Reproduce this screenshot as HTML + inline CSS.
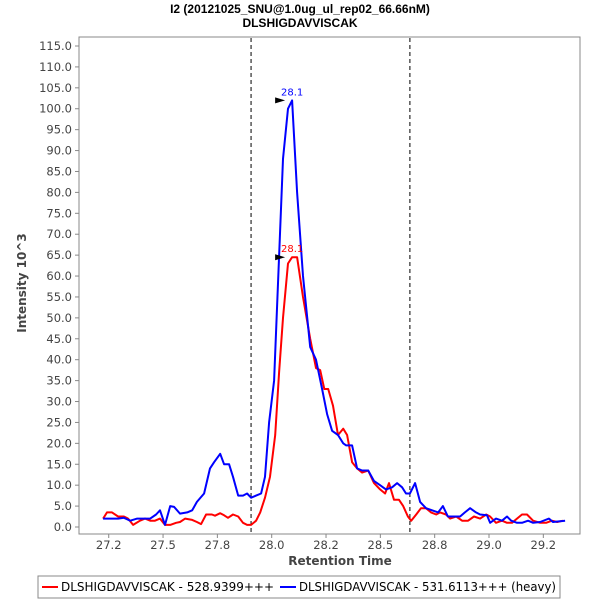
<!DOCTYPE html>
<html><head><meta charset="utf-8"><style>
html,body{margin:0;padding:0;background:#fff;}
svg{display:block;font-family:"DejaVu Sans","Liberation Sans",sans-serif;}
</style></head><body>
<svg id="chart" width="600" height="600">
<text x="300" y="13" text-anchor="middle" font-size="12" font-weight="bold" font-family="Liberation Sans, sans-serif">I2 (20121025_SNU@1.0ug_ul_rep02_66.66nM)</text>
<text x="300" y="27" text-anchor="middle" font-size="12" font-weight="bold" font-family="Liberation Sans, sans-serif">DLSHIGDAVVISCAK</text>
<rect x="79" y="37" width="501" height="497" fill="#fff" stroke="#888"/>
<g id="yaxis"></g>
<g id="xaxis"></g>
<text transform="translate(26,283) rotate(-90)" text-anchor="middle" font-size="12" font-weight="bold" fill="#444">Intensity 10^3</text>
<text x="340" y="565" text-anchor="middle" font-size="12" font-weight="bold" fill="#444">Retention Time</text>
<g id="marks"></g>
<g>
<rect x="38" y="576" width="522" height="22" fill="#fff" stroke="#888"/>
<line x1="42" y1="587" x2="58" y2="587" stroke="#f00" stroke-width="2"/>
<text x="61" y="591" font-size="12" textLength="213" lengthAdjust="spacingAndGlyphs">DLSHIGDAVVISCAK - 528.9399+++</text>
<line x1="280" y1="587" x2="296" y2="587" stroke="#00f" stroke-width="2"/>
<text x="299" y="591" font-size="12" textLength="257" lengthAdjust="spacingAndGlyphs">DLSHIGDAVVISCAK - 531.6113+++ (heavy)</text>
</g>
</svg>
<script>
const yTicks=[0,5,10,15,20,25,30,35,40,45,50,55,60,65,70,75,80,85,90,95,100,105,110,115];
const xTicks=[27.25,27.5,27.75,28.0,28.25,28.5,28.75,29.0,29.25];
const xTickLabels=["27.2","27.5","27.8","28.0","28.2","28.5","28.8","29.0","29.2"];
const dashedLines=[27.905,28.636];
const blueRt=[27.224,27.256,27.293,27.320,27.349,27.381,27.412,27.441,27.468,27.486,27.509,27.533,27.551,27.578,27.611,27.634,27.656,27.689,27.716,27.735,27.763,27.781,27.804,27.822,27.846,27.868,27.887,27.905,27.928,27.951,27.969,27.988,28.011,28.052,28.075,28.094,28.117,28.144,28.177,28.204,28.232,28.255,28.278,28.305,28.329,28.343,28.370,28.393,28.416,28.444,28.471,28.499,28.526,28.554,28.577,28.600,28.618,28.636,28.660,28.683,28.710,28.738,28.766,28.788,28.811,28.844,28.867,28.889,28.913,28.940,28.959,28.991,29.005,29.032,29.060,29.083,29.102,29.129,29.152,29.180,29.203,29.235,29.276,29.294,29.350];
const blueVal=[2,2,2,2.2,1.5,2,2,2,3,4,0.5,5,4.8,3.2,3.5,4,6,8,14,15.5,17.5,15,15,12,7.5,7.5,8,7,7.5,8,12,25,35,88,100,102,80,60,43,40,33,27,23,22,20,19.5,19.5,14,13.5,13.5,11,10,9,9.5,10.5,9.5,8,8,10.5,6,4.5,4,3.5,5,2.5,2.5,2.5,3.5,4.5,3.5,3,2.8,1,2,1.5,2.5,1.5,1,1,1.5,1,1.2,2,1.2,1.5];
const redRt=[27.224,27.242,27.265,27.293,27.320,27.339,27.362,27.394,27.417,27.441,27.463,27.486,27.509,27.533,27.560,27.578,27.602,27.634,27.656,27.675,27.698,27.725,27.739,27.763,27.781,27.799,27.822,27.846,27.868,27.887,27.905,27.928,27.947,27.969,27.992,28.016,28.034,28.052,28.075,28.094,28.117,28.144,28.177,28.204,28.223,28.242,28.260,28.282,28.305,28.329,28.347,28.370,28.393,28.416,28.444,28.471,28.499,28.522,28.540,28.563,28.586,28.605,28.627,28.642,28.665,28.687,28.710,28.733,28.757,28.775,28.802,28.821,28.849,28.876,28.904,28.931,28.959,28.987,29.005,29.032,29.060,29.083,29.106,29.129,29.152,29.175,29.203,29.235,29.263,29.290,29.314,29.340];
const redVal=[2,3.5,3.5,2.5,2.5,2,0.5,1.5,2,1.5,1.5,2,0.5,0.5,1,1.2,2,1.7,1.2,0.7,3,3,2.7,3.3,2.8,2.2,3,2.5,1,0.5,0.5,1.5,3.5,7,12,22,37,50,63,64.5,64.5,55,45,38,37.5,33,33,29,22,23.5,22,15.5,14,13,13.5,10.5,9,8,10.5,6.5,6.5,5,2.5,1.5,3,4.5,4.5,3.5,3,3.5,3,2,2.5,1.5,1.5,2.5,2,3,2.5,1,1.5,1,1,2,3,3,1.5,1,1,1.5,1.2,1.5];
const peakRt=[28.094,28.094];
const peakVal=[102,64.5];
const peakLabels=["28.1","28.1"];

const NS="http://www.w3.org/2000/svg";
const xs=v=>271.7+(v-28)*217.3;
const ys=v=>527-v*(481/115);
function mk(tag,attrs,parent){const e=document.createElementNS(NS,tag);for(const k in attrs)e.setAttribute(k,attrs[k]);parent.appendChild(e);return e;}
const yg=document.getElementById('yaxis'),xg=document.getElementById('xaxis'),mg=document.getElementById('marks');
yTicks.forEach(t=>{
  const l=mk('line',{x1:75,x2:79,y1:ys(t),y2:ys(t),stroke:'#888'},yg);
  
  
  const tx=mk('text',{x:72,y:ys(t)+4,'text-anchor':'end','font-size':11.5,fill:'#444'},yg);
  tx.textContent=t.toFixed(1);
  
  
});
xTicks.forEach((t,i)=>{
  const l=mk('line',{x1:xs(t),x2:xs(t),y1:534,y2:538,stroke:'#888'},xg);
  
  
  const tx=mk('text',{x:xs(t),y:549,'text-anchor':'middle','font-size':11.5,fill:'#444'},xg);
  tx.textContent=xTickLabels[i];
  
  
});
dashedLines.forEach(d=>{
  const l=mk('line',{x1:xs(d),x2:xs(d),y1:38,y2:533,stroke:'#000','stroke-dasharray':'4,3'},mg);
  
  
});
function series(rt,val,color,name){
  const pts=rt.map((r,i)=>xs(r).toFixed(1)+','+ys(val[i]).toFixed(1)).join(' ');
  const p=mk('polyline',{points:pts,fill:'none',stroke:color,'stroke-width':2,'stroke-linejoin':'round'},mg);
  
  
}
series(redRt,redVal,'#f00','light-series-line');
series(blueRt,blueVal,'#00f','heavy-series-line');
const pc=['#00f','#f00'];
peakRt.forEach((r,i)=>{
  const x=xs(r),y=ys(peakVal[i]);
  const tri=mk('polygon',{points:`${x-17},${y-3} ${x-7},${y} ${x-17},${y+3}`,fill:'#000'},mg);
  
  
  const t=mk('text',{x:x,y:y-5,'text-anchor':'middle','font-size':10,fill:pc[i]},mg);
  t.textContent=peakLabels[i];
  
  
});
</script>
</body></html>
